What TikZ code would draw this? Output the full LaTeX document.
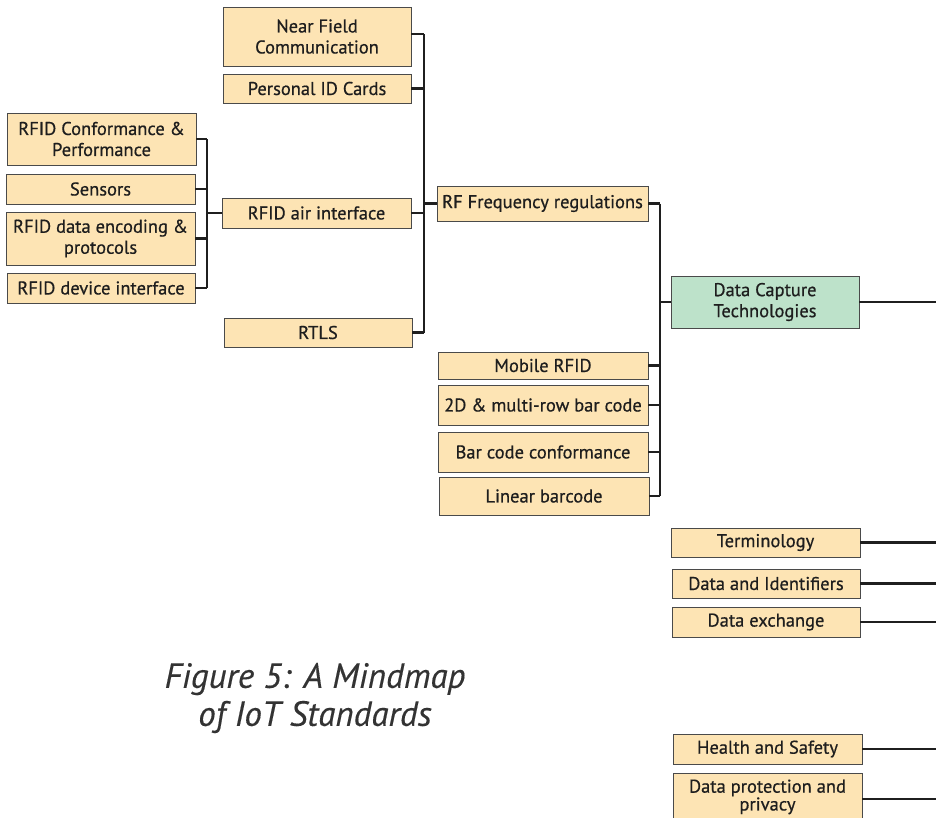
\documentclass[tikz,border=0pt]{standalone}
\usepackage{fontspec}
\setmainfont{PT Sans}
\newfontfamily\boxfont{PT Sans}[FakeBold=0.6]
\newfontfamily\capfont{PT Sans}[FakeBold=0.3]
\definecolor{boxfill}{HTML}{FDE4B4}
\definecolor{capfill}{HTML}{BDE2CA}
\definecolor{boxline}{HTML}{4A4A4A}
\definecolor{txt}{HTML}{1E1E1E}
\definecolor{captxt}{HTML}{333333}
\tikzset{
  box/.style={draw=boxline, fill=boxfill, line width=0.9pt, inner sep=0pt, align=center,
    text=txt, font=\boxfont\fontsize{18.5}{21}\selectfont},
  capbox/.style={box, fill=capfill},
  link/.style={line width=2.2pt, draw=black!88}
}
\begin{document}
\begin{tikzpicture}[x=1pt,y=-1pt]
\useasboundingbox (0,0) rectangle (936,817);
% column 2
\node[box, minimum width=188, minimum height=59] (nfc) at (317,36.5) {Near Field\\Communication};
\node[box, minimum width=188, minimum height=29] (pid) at (317,88.5) {Personal ID Cards};
\node[box, minimum width=189, minimum height=30] (air) at (316.5,213) {RFID air interface};
\node[box, minimum width=188, minimum height=29] (rtls) at (318,332.5) {RTLS};
% column 1
\node[box, minimum width=189, minimum height=52] (conf) at (101.5,139) {RFID Conformance \&\\Performance};
\node[box, minimum width=189, minimum height=30] (sens) at (100.5,189) {Sensors};
\node[box, minimum width=189, minimum height=53] (enc) at (100.5,238.5) {RFID data encoding \&\\protocols};
\node[box, minimum width=188, minimum height=30] (dev) at (101,288) {RFID device interface};
% column 3
\node[box, minimum width=211, minimum height=35] (rf) at (542.5,203.5) {RF Frequency regulations};
\node[box, minimum width=210, minimum height=27] (mob) at (543,365.5) {Mobile RFID};
\node[box, minimum width=210, minimum height=40] (twod) at (543,405) {2D \& multi-row bar code};
\node[box, minimum width=210, minimum height=40] (bcc) at (543,452) {Bar code conformance};
\node[box, minimum width=210, minimum height=38] (lin) at (544,496) {Linear barcode};
% column 4
\node[capbox, minimum width=188, minimum height=52] (dct) at (765,302) {Data Capture\\Technologies};
\node[box, minimum width=189, minimum height=29] (term) at (765.5,542.5) {Terminology};
\node[box, minimum width=188, minimum height=29] (did) at (766,583.5) {Data and Identifiers};
\node[box, minimum width=188, minimum height=30] (dex) at (766,622) {Data exchange};
\node[box, minimum width=189, minimum height=30] (hs) at (767.5,749) {Health and Safety};
\node[box, minimum width=189, minimum height=56, font=\boxfont\fontsize{18.5}{16}\selectfont, text depth=12pt] (dpp) at (767.5,801) {Data protection and\\privacy};
% spine coordinates
\coordinate (sa) at (207,0);
\coordinate (sb) at (424,0);
\coordinate (sc) at (660,0);
\coordinate (edge) at (936,0);
% left bracket
\foreach \n in {conf,sens,enc,dev}{\draw[link] (\n.east) -- (\n.east -| sa);}
\draw[link] (conf.east -| sa) -- (dev.east -| sa);
\draw[link] (air.west) -- (air.west -| sa);
% second bracket
\draw[link] (nfc.east |- 0,34) -- (sb |- 0,34);
\foreach \n in {pid,air,rtls}{\draw[link] (\n.east) -- (\n.east -| sb);}
\draw[link] (sb |- 0,34) -- (rtls.east -| sb);
\draw[link] (rf.west) -- (rf.west -| sb);
% third bracket
\foreach \n in {rf,mob,twod,bcc,lin}{\draw[link] (\n.east) -- (\n.east -| sc);}
\draw[link] (rf.east -| sc) -- (lin.east -| sc);
\draw[link] (dct.west) -- (dct.west -| sc);
% right lines
\foreach \n in {dct,term,did,dex,hs}{\draw[link] (\n.east) -- (\n.east -| edge);}
\draw[link] (dpp.east |- 0,799) -- (edge |- 0,799);
% caption
\node[text=captxt, font=\capfont\fontsize{35}{38}\selectfont\itshape, align=center] (cap) at (315,698) {Figure 5: A Mindmap\\of IoT Standards};
\end{tikzpicture}
\end{document}
